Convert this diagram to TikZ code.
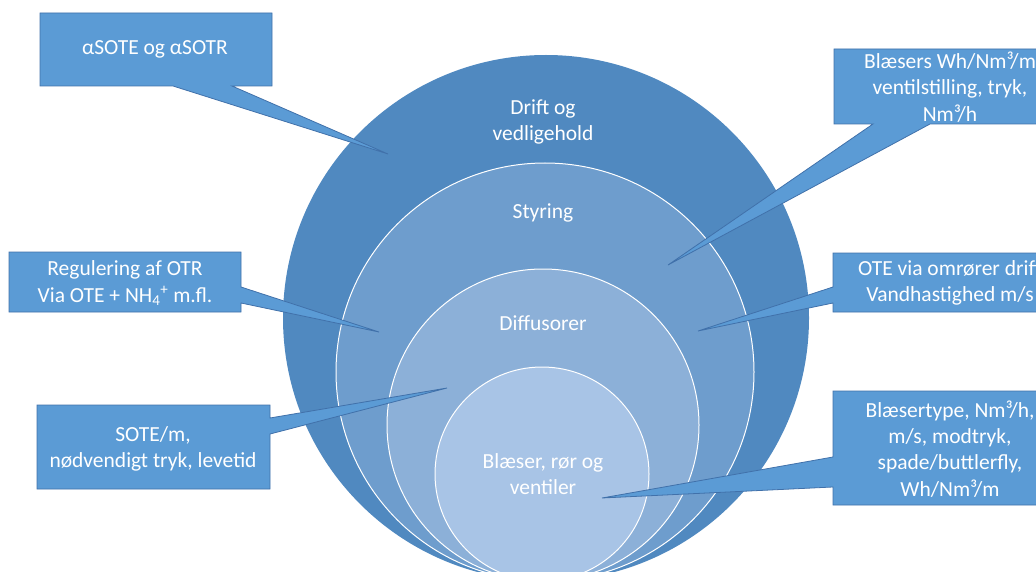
\documentclass[tikz,border=0pt]{standalone}
\usepackage{fontspec}
\setmainfont{Carlito}
\definecolor{cA}{RGB}{80,137,192}
\definecolor{cB}{RGB}{110,157,205}
\definecolor{cC}{RGB}{140,176,216}
\definecolor{cD}{RGB}{168,196,230}
\definecolor{callblue}{RGB}{91,155,213}
\definecolor{calledge}{RGB}{65,113,170}
\begin{document}
\begin{tikzpicture}[x=1pt,y=-1pt,
  callout/.style={fill=callblue, draw=calledge, line width=0.8pt, line join=miter},
  ring/.style={draw=white, line width=1pt},
  lbl/.style={text=white, font=\fontsize{21.5}{26.3}\selectfont, align=center, inner sep=0pt},
]
\useasboundingbox (0,0) rectangle (1036,572);
\clip (0,0) rectangle (1036,572);
% stacked circles
\fill[cA] (546,318) circle[radius=263pt];
\filldraw[cB, ring, fill=cB] (545,372) circle[radius=209pt];
\filldraw[cC, ring, fill=cC] (543,425) circle[radius=156pt];
\filldraw[cD, ring, fill=cD] (542,474) circle[radius=107pt];
% circle labels
\node[lbl] (drift) at (543,122) {Drift og\\vedligehold};
\node[lbl] (styr) at (543,213) {Styring};
\node[lbl] (diff) at (543,323) {Diffusorer};
\node[lbl] (blae) at (543,474) {Blæser, rør og\\ventiler};
% callouts
\draw[callout] (40,13) -- (272,13) -- (272,86) -- (232,86) -- (388,154) -- (173,86) -- (40,86) -- cycle;
\draw[callout] (834,49) -- (1066,49) -- (1066,124) -- (930,124) -- (668,265) -- (873,124) -- (834,124) -- cycle;
\draw[callout] (833,253) -- (1067,253) -- (1067,312) -- (833,312) -- (833,303) -- (698,331) -- (833,287) -- cycle;
\draw[callout] (833,391) -- (1067,391) -- (1067,505) -- (833,505) -- (833,487) -- (602,498) -- (833,457) -- cycle;
\draw[callout] (9,252) -- (241,252) -- (241,287) -- (379,332) -- (241,303) -- (241,312) -- (9,312) -- cycle;
\draw[callout] (37,405) -- (270,405) -- (270,418) -- (447,388) -- (270,434) -- (270,489) -- (37,489) -- cycle;
% callout texts
\node[lbl] (ta) at (155,49) {αSOTE og αSOTR};
\node[lbl] (tb) at (950,87) {Blæsers Wh/Nm³/m\\ventilstilling, tryk,\\Nm³/h};
\node[lbl] (tc) at (950,283) {OTE via omrører drift\\Vandhastighed m/s};
\node[lbl] (td) at (950,449) {Blæsertype, Nm³/h,\\m/s, modtryk,\\spade/buttlerfly,\\Wh/Nm³/m};
\node[lbl] (te) at (125,283) {Regulering af OTR\\Via OTE + NH\textsubscript{4}\textsuperscript{+} m.fl.};
\node[lbl] (tf) at (153,449) {SOTE/m,\\nødvendigt tryk, levetid};
\end{tikzpicture}
\end{document}
